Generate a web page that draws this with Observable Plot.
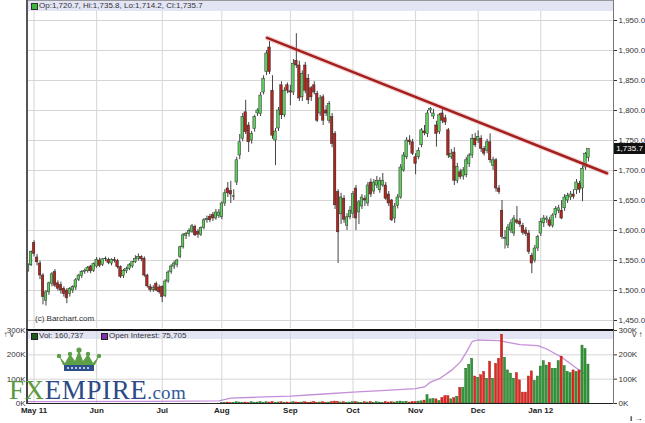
<!DOCTYPE html>
<html><head><meta charset="utf-8">
<script src="https://cdn.jsdelivr.net/npm/d3@7"></script>
<script src="https://cdn.jsdelivr.net/npm/@observablehq/plot@0.6"></script>
<style>
html,body{margin:0;padding:0;background:#fff;}
#wrap{position:relative;width:645px;height:423px;overflow:hidden;background:#fff;font-family:"Liberation Sans",Arial,sans-serif;}
.abs{position:absolute;}
.lbl{font-size:8px;color:#333;white-space:nowrap;line-height:11px;}
</style></head><body><div id="wrap"></div>
<script>
// ---- data (trading-day index, 0 = first trading day of May 2011) ----
const firstIdx = -2;
const open = [
1533,1542,1579,1555,1545,1525,1483,1497,1511,1531,
1512,1509,1503,1500,1494,1500,1505,1518,1524,1531,
1532,1540,1533,1540,1550,1543,1552,1551,1545,1551,
1549,1539,1524,1532,1536,1540,1547,1553,1556,1553,
1525,1506,1501,1511,1505,1506,1491,1515,1531,1540,
1543,1556,1572,1591,1594,1598,1606,1598,1593,1604,
1617,1623,1626,1620,1624,1622,1645,1670,1666,1656,
1680,1725,1753,1797,1775,1750,1769,1795,1794,1830,
1864,1905,1833,1750,1770,1842,1792,1842,1832,1830,
1883,1875,1822,1875,1853,1837,1842,1828,1795,1822,
1800,1783,1789,1761,1664,1627,1653,1608,1622,1628,
1670,1630,1640,1653,1645,1680,1665,1675,1667,1675,
1675,1660,1650,1620,1641,1655,1700,1722,1750,1747,
1722,1722,1742,1765,1761,1800,1790,1775,1764,1795,
1787,1767,1722,1730,1683,1697,1690,1692,1711,1725,
1753,1750,1753,1736,1733,1747,1708,1717,1670,1633,
1586,1575,1600,1595,1617,1615,1608,1600,1595,1558,
1550,1570,1595,1612,1618,1617,1608,1626,1633,1633,
1637,1650,1655,1660,1667,1678,1670,1705,1720.7];
const high = [
1545,1566,1583,1560,1549,1528,1500,1514,1530,1535,
1516,1514,1506,1503,1505,1508,1520,1527,1533,1536,
1540,1542,1546,1555,1554,1553,1556,1554,1553,1555,
1552,1541,1535,1539,1545,1548,1558,1561,1558,1556,
1527,1510,1508,1514,1509,1508,1518,1533,1543,1549,
1552,1574,1595,1597,1603,1610,1609,1602,1606,1620,
1624,1627,1630,1635,1635,1648,1668,1680,1682,1668,
1722,1760,1795,1817,1780,1765,1792,1803,1830,1858,
1900,1915,1858,1770,1805,1848,1838,1846,1842,1885,
1928,1882,1866,1880,1860,1840,1848,1832,1825,1826,
1808,1815,1795,1765,1668,1662,1658,1628,1640,1665,
1675,1650,1660,1658,1680,1686,1685,1690,1688,1695,
1680,1665,1652,1645,1660,1710,1730,1755,1758,1752,
1728,1738,1770,1775,1800,1805,1802,1782,1795,1803,
1792,1770,1735,1738,1712,1702,1705,1722,1728,1760,
1762,1766,1758,1740,1752,1761,1722,1720,1675,1650,
1600,1610,1618,1625,1640,1620,1612,1605,1600,1562,
1575,1592,1620,1625,1624,1622,1628,1640,1642,1650,
1660,1662,1665,1668,1685,1682,1708,1730,1735.8];
const low = [
1530,1540,1556,1541,1518,1476,1474,1492,1506,1505,
1499,1494,1489,1478,1489,1495,1500,1515,1520,1527,
1529,1528,1530,1537,1538,1540,1548,1543,1541,1546,
1536,1520,1520,1528,1533,1537,1545,1549,1548,1522,
1504,1497,1497,1498,1494,1480,1488,1512,1527,1535,
1538,1553,1569,1585,1589,1595,1590,1587,1590,1601,
1612,1613,1615,1617,1620,1618,1640,1655,1645,1650,
1675,1718,1748,1760,1730,1744,1764,1790,1790,1826,
1858,1860,1752,1708,1765,1785,1788,1828,1808,1825,
1870,1815,1815,1828,1810,1815,1826,1780,1790,1775,
1790,1778,1738,1635,1545,1610,1612,1600,1618,1620,
1600,1610,1635,1640,1640,1655,1660,1670,1662,1672,
1650,1640,1615,1612,1636,1652,1697,1718,1742,1725,
1693,1718,1738,1758,1755,1795,1785,1739,1760,1778,
1775,1720,1718,1675,1678,1685,1684,1688,1705,1720,
1738,1745,1730,1724,1728,1712,1700,1664,1660,1585,
1569,1570,1595,1590,1610,1605,1592,1590,1560,1528,
1546,1565,1590,1605,1612,1605,1604,1620,1628,1618,
1632,1645,1650,1652,1660,1662,1648,1700,1714.2];
const close = [
1542,1564,1561,1547,1525,1489,1497,1512,1527,1508,
1503,1500,1494,1487,1503,1506,1517,1525,1531,1533,
1538,1532,1544,1551,1541,1552,1553,1546,1551,1549,
1539,1523,1533,1536,1542,1547,1553,1556,1552,1525,
1507,1501,1504,1500,1497,1489,1515,1530,1540,1545,
1550,1572,1592,1594,1599,1607,1592,1593,1604,1617,
1619,1617,1620,1630,1630,1645,1662,1662,1660,1657,
1717,1747,1789,1764,1747,1761,1789,1800,1825,1853,
1895,1864,1758,1765,1800,1792,1833,1833,1830,1878,
1875,1820,1861,1833,1817,1822,1830,1783,1820,1783,
1795,1811,1744,1642,1597,1655,1618,1622,1633,1661,
1620,1647,1655,1650,1675,1660,1680,1683,1683,1683,
1653,1645,1617,1640,1655,1705,1725,1750,1747,1728,
1711,1733,1767,1762,1795,1803,1795,1761,1792,1783,
1780,1725,1728,1683,1706,1689,1700,1717,1725,1753,
1742,1756,1736,1728,1747,1717,1717,1670,1664,1589,
1588,1605,1612,1620,1613,1610,1596,1594,1564,1545,
1570,1589,1614,1620,1620,1608,1625,1636,1637,1620,
1655,1658,1660,1656,1680,1668,1703,1728,1735.7];

// volume (thousands), from trading-day index volStart
const volStart = 63;
const vol = [
2,3,4,2,3,5,4,
3,4,2,5,3,4,6,3,5,4,
6,3,4,5,3,4,2,5,4,3,
4,5,3,4,6,3,4,5,3,4,
6,8,7,4,5,3,4,5,6,4,
3,5,4,6,3,5,4,3,6,4,
5,4,6,8,5,7,4,6,6,8,
9,12,34,17,19,17,10,23,30,30,17,22,28,64,64,143,159,184,111,106,116,130,102,172,102,163,184,
283,188,136,123,102,125,95,45,45,111,132,93,111,152,174,156,167,143,143,174,193,154,130,125,136,130,136,238,224,160];

// open interest (thousands)
const oiIdx = [-2,40,62,66,75,86,96,107,118,128,131,133,136,140,143,145,147,149,156,159,163,169,172,177,180,183,185];
const oiVal = [8,9,11,22,26,30,38,47,54,61,68,88,102,136,170,210,255,261,258,251,242,238,224,190,163,136,120];

// trend line drawn on the chart
const trendIdx = [78.2, 192.2];
const trendPrice = [1921, 1695.5];

// axes
const monthIdx = [0,21,43,63,86,107,128,149,170];
const monthLabels = ["May 11","Jun","Jul","Aug","Sep","Oct","Nov","Dec","Jan 12"];
const priceTicks = [1450,1500,1550,1600,1650,1700,1750,1800,1850,1900,1950];
const volTicks = [0,100,200,300];

// ---- build ----
const candles = open.map((o,k)=>({i:firstIdx+k, open:o, high:high[k], low:low[k], close:close[k]}));
const upOf = new Map(candles.map(d=>[d.i, d.close>=d.open]));
const volData = vol.map((v,k)=>({i:volStart+k, v, up:upOf.get(volStart+k)}));
const oiData = oiIdx.map((i,k)=>({i, v:oiVal[k]}));
const trend = trendIdx.map((i,k)=>({i, p:trendPrice[k]}));
const labelOf = new Map(monthIdx.map((d,k)=>[d, monthLabels[k]]));

const xDomain = [-2.2, 194.4];
const GREEN = "#5ccf5c", RED = "#b3261e";
const style = {background:"transparent", fontFamily:"Liberation Sans, Arial, sans-serif", fontSize:"8px", color:"#333", overflow:"visible"};
const gridColor = "#d6d6d6";

const wrap = document.getElementById("wrap");
function addDiv(css, html){ const d=document.createElement("div"); d.className="abs"; d.style.cssText=css; if(html!==undefined) d.innerHTML=html; wrap.appendChild(d); return d; }

// backgrounds
addDiv("left:27px;top:0;width:586px;height:11px;background:#e3e5f5;border-top:1px solid #999;box-sizing:border-box;");
addDiv("left:27px;top:331px;width:586px;height:8px;background:#e3e5f5;");

const main = Plot.plot({
  width:645, height:330, marginLeft:27, marginRight:32, marginTop:11, marginBottom:2,
  x:{domain:xDomain, axis:null},
  y:{domain:[1436.7,1965]},
  style,
  marks:[
    Plot.gridY(priceTicks,{stroke:gridColor, strokeOpacity:1}),
    Plot.gridX(monthIdx,{stroke:gridColor, strokeOpacity:1}),
    Plot.ruleX(candles,{x:"i", y1:"low", y2:"high", stroke:"#444", strokeWidth:1}),
    Plot.rect(candles.filter(d=>d.close>=d.open),{x1:d=>d.i-0.42, x2:d=>d.i+0.42, y1:"open", y2:"close", fill:GREEN, stroke:"#2a2a2a", strokeWidth:0.5}),
    Plot.rect(candles.filter(d=>d.close<d.open),{x1:d=>d.i-0.42, x2:d=>d.i+0.42, y1:"open", y2:"close", fill:RED, stroke:"#2a2a2a", strokeWidth:0.5}),
    Plot.line(trend,{x:"i", y:"p", stroke:"#dd8a8a", strokeWidth:5, strokeOpacity:0.35}),
    Plot.line(trend,{x:"i", y:"p", stroke:"#a51f1f", strokeWidth:2.6}),
    Plot.axisY(priceTicks,{anchor:"right", tickSize:3, tickPadding:2, tickFormat:d3.format(",.1f")})
  ]
});
main.style.position="absolute"; main.style.left="0px"; main.style.top="0px";
wrap.appendChild(main);

const volChart = Plot.plot({
  width:645, height:95, marginLeft:27, marginRight:32, marginTop:2, marginBottom:20,
  x:{domain:xDomain},
  y:{domain:[0,300]},
  style,
  marks:[
    Plot.gridY([100,200],{stroke:gridColor, strokeOpacity:1}),
    Plot.gridX(monthIdx,{stroke:gridColor, strokeOpacity:1}),
    Plot.line(oiData,{x:"i", y:"v", stroke:"#c48fd8", strokeWidth:1.3}),
    Plot.rect(volData.filter(d=>d.up),{x1:d=>d.i-0.36, x2:d=>d.i+0.36, y1:d=>0, y2:"v", fill:"#2f9a35", stroke:"#1d5e20", strokeWidth:0.4}),
    Plot.rect(volData.filter(d=>!d.up),{x1:d=>d.i-0.36, x2:d=>d.i+0.36, y1:d=>0, y2:"v", fill:"#e3261f", stroke:"#a01a14", strokeWidth:0.4}),
    Plot.ruleY([0],{stroke:"#222", strokeWidth:1.2}),
    Plot.axisY(volTicks,{anchor:"left", tickSize:0, tickPadding:2, tickFormat:d=>d+"K"}),
    Plot.axisY(volTicks,{anchor:"right", tickSize:3, tickPadding:2, tickFormat:d=>d+"K"}),
    Plot.axisX(monthIdx,{anchor:"bottom", tickSize:0, tickPadding:4, fontWeight:"bold", fill:"#222", tickFormat:d=>labelOf.get(d)})
  ]
});
volChart.style.position="absolute"; volChart.style.left="0px"; volChart.style.top="328px";
wrap.appendChild(volChart);

// frame borders
addDiv("left:26px;top:0;width:1.5px;height:330px;background:#555;");
addDiv("left:612.5px;top:0;width:1px;height:330px;background:#777;");
addDiv("left:26px;top:329px;width:588px;height:2px;background:#111;");
addDiv("left:26px;top:330px;width:1.5px;height:74px;background:#444;");
addDiv("left:612.5px;top:330px;width:1px;height:74px;background:#777;");

// legends
addDiv("left:31px;top:3px;width:5px;height:5px;background:#3cb83c;border:1px solid #333;");
const last = candles[candles.length-1];
const fmt = d3.format(",.1f");
addDiv("left:39px;top:0px;", `<div class="lbl">Op:${fmt(last.open)}, Hi:${fmt(last.high)}, Lo:${fmt(last.low)}, Cl:${fmt(last.close)}</div>`);
addDiv("left:31px;top:332.5px;width:5px;height:5px;background:#1e5a1e;border:1px solid #222;");
addDiv("left:39px;top:329.5px;", `<div class="lbl">Vol: ${d3.format(",")(160737)}</div>`);
addDiv("left:101px;top:332.5px;width:5px;height:5px;background:#7a32a6;border:1px solid #222;");
addDiv("left:109px;top:329.5px;", `<div class="lbl">Open Interest: ${d3.format(",")(75705)}</div>`);
addDiv("left:35px;top:313px;", `<div class="lbl">(c) Barchart.com</div>`);

// last price box
const yLast = main.scale("y").apply(last.close);
addDiv(`left:614px;top:${yLast-5.5}px;width:31px;height:11px;background:#111;color:#fff;font-size:8px;line-height:11px;text-align:center;`, fmt(last.close));

// logo
addDiv("left:56px;top:347px;", `<svg width="46" height="26">
<path d="M3,9 L9,16 L14,7 L19,14 L23,3 L27,14 L32,7 L37,16 L43,9 L39,18 L7,18 Z" fill="#5c9f46"/>
<circle cx="3" cy="9" r="2.2" fill="#5c9f46"/><circle cx="14" cy="7" r="2.2" fill="#5c9f46"/>
<circle cx="23" cy="3" r="2.6" fill="#5c9f46"/><circle cx="32" cy="7" r="2.2" fill="#5c9f46"/>
<circle cx="43" cy="9" r="2.2" fill="#5c9f46"/>
<rect x="8" y="18" width="30" height="6" fill="#2d4f8e"/>
<g fill="#fff"><circle cx="12" cy="21" r="0.9"/><circle cx="16" cy="21" r="0.9"/><circle cx="20" cy="21" r="0.9"/><circle cx="24" cy="21" r="0.9"/><circle cx="28" cy="21" r="0.9"/><circle cx="32" cy="21" r="0.9"/></g>
</svg>`);
addDiv("left:9px;top:377px;font-family:'Liberation Serif','DejaVu Serif',serif;font-size:27px;line-height:27px;white-space:nowrap;letter-spacing:0.6px;",
  `<span style="color:#5c9a3c">FX</span><span style="color:#2b4a86">EMPIRE</span><span style="color:#2f5a9a;font-size:19px;letter-spacing:0.3px">.com</span>`);
</script>
</body></html>
